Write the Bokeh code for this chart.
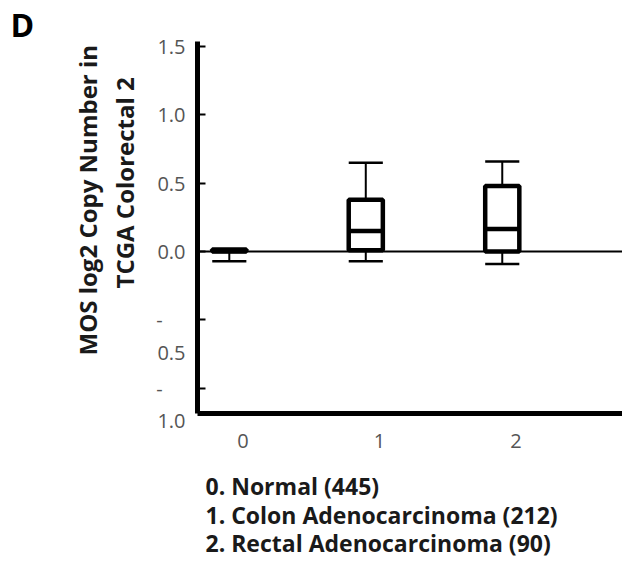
import math
from bokeh.plotting import figure
from bokeh.models import Span, FixedTicker, ColumnDataSource, Range1d, Title
from bokeh.embed import file_html
from bokeh.resources import INLINE

# ---- data ----
groups = [0, 1, 2]
group_names = ["0. Normal (445)", "1. Colon Adenocarcinoma (212)", "2. Rectal Adenocarcinoma (90)"]
lower_whisker = [-0.07, -0.07, -0.09]
q1 = [0.0, 0.01, 0.0]
median = [0.005, 0.15, 0.165]
q3 = [0.015, 0.38, 0.48]
upper_whisker = [0.015, 0.65, 0.66]
y_ticks = [-1.0, -0.5, 0.0, 0.5, 1.0, 1.5]
y_tick_labels = {-1.0: "\n-\u2007\u2007\n1.0", -0.5: "\n-\u2007\u2007\n0.5",
                 0.0: "0.0", 0.5: "0.5", 1.0: "1.0", 1.5: "1.5"}
x_tick_labels = {0: "0", 1: "1", 2: "2"}
y_title = ["MOS log2 Copy Number in", "TCGA Colorectal 2"]
panel_letter = "D"

# ---- layout ----
W, H = 622, 563
L, T, B = 197, 41, 150
x0, x1 = -0.333, 2.781
y0, y1 = -1.185, 1.538
box_shift = -0.1
box_w = 0.25

p = figure(width=W, height=H, output_backend="svg", toolbar_location=None,
           x_range=Range1d(x0, x1), y_range=Range1d(y0, y1),
           min_border_left=L, min_border_top=T, min_border_bottom=B, min_border_right=0)
p.outline_line_color = None
p.xgrid.visible = False
p.ygrid.visible = False
p.background_fill_color = "white"
p.border_fill_color = "white"

font = "Open Sans"
tick_color = "#555555"
text_color = "#1a1a1a"

# y axis
ya = p.yaxis[0]
ya.ticker = FixedTicker(ticks=y_ticks)
ya.major_label_overrides = y_tick_labels
ya.axis_line_width = 5
ya.major_tick_line_width = 2
ya.major_tick_in = 8
ya.major_tick_out = 0
ya.minor_tick_line_color = None
ya.major_label_text_font = font
ya.major_label_text_font_size = "20px"
ya.major_label_text_color = tick_color
ya.major_label_standoff = 12

# x axis
xa = p.xaxis[0]
xa.ticker = FixedTicker(ticks=groups)
xa.major_label_overrides = x_tick_labels
xa.axis_line_width = 5
xa.major_tick_line_color = None
xa.minor_tick_line_color = None
xa.major_label_text_font = font
xa.major_label_text_font_size = "20px"
xa.major_label_text_color = tick_color
xa.major_label_standoff = 14
xa.axis_label = " "
xa.axis_label_text_font_size = "1px"
xa.axis_label_standoff = 14

p.add_layout(Span(location=0, dimension="width", line_color="black", line_width=2))

xc = [g + box_shift for g in groups]
src = ColumnDataSource(dict(x=xc, lw=lower_whisker, q1=q1, med=median, q3=q3, uw=upper_whisker,
                            left=[v - box_w / 2 for v in xc], right=[v + box_w / 2 for v in xc]))
# whiskers
p.segment(x0="x", y0="q3", x1="x", y1="uw", source=src, line_color="black", line_width=2)
p.segment(x0="x", y0="q1", x1="x", y1="lw", source=src, line_color="black", line_width=2)
p.segment(x0="left", y0="uw", x1="right", y1="uw", source=src, line_color="black", line_width=2.5)
p.segment(x0="left", y0="lw", x1="right", y1="lw", source=src, line_color="black", line_width=2.5)
# boxes
p.quad(left="left", right="right", bottom="q1", top="q3", source=src,
       fill_color="white", line_color="black", line_width=4.5)
p.segment(x0="left", y0="med", x1="right", y1="med", source=src, line_color="black", line_width=4.5)

# y title (two separate lines; inner one first)
p.add_layout(Title(text=y_title[1], align="left", offset=125, standoff=26, text_font=font,
                   text_font_style="bold", text_font_size="24px", text_color=text_color), "left")
p.add_layout(Title(text=y_title[0], align="left", offset=58, standoff=-23, text_font=font,
                   text_font_style="bold", text_font_size="24px", text_color=text_color), "left")
# panel letter
p.add_layout(Title(text=panel_letter, align="left", offset=-187, standoff=-9, text_font=font,
                   text_font_style="bold", text_font_size="32px", text_color="black"), "above")
# group legend
p.add_layout(Title(text="\n".join(group_names), align="left", offset=8, standoff=0, text_font=font,
                   text_font_style="bold", text_font_size="23px", text_color=text_color,
                   text_line_height=0.895), "below")

open("out.html", "w").write(file_html(p, INLINE))
